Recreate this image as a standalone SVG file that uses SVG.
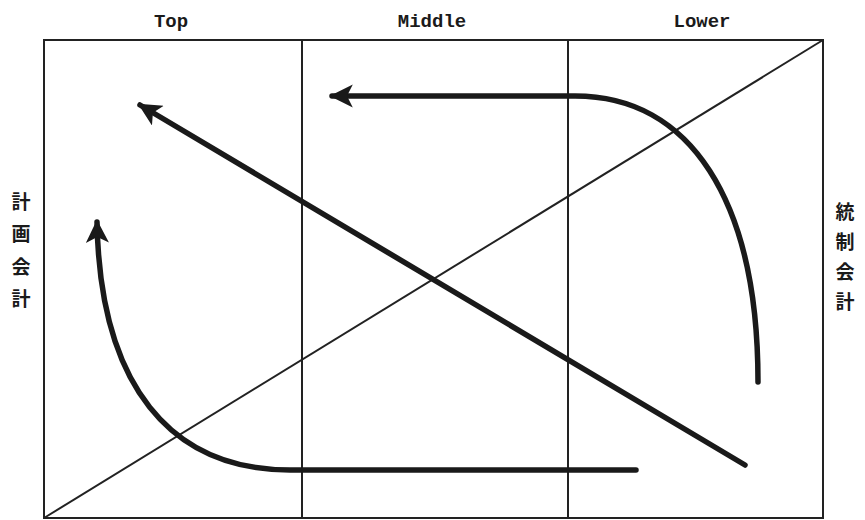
<svg xmlns="http://www.w3.org/2000/svg" width="865" height="520" viewBox="0 0 865 520">
<defs>
<style>
.frame{fill:none;stroke:#222;stroke-width:2}
.arrow{fill:none;stroke:#1a1a1a;stroke-width:5.5;stroke-linecap:round}
.hdr{font-family:"Liberation Mono",monospace;font-weight:bold;font-size:19px;fill:#1a1a1a;text-anchor:middle}
.jp{font-family:"Liberation Sans","Noto Sans CJK JP",sans-serif;font-weight:bold;font-size:19px;fill:#1a1a1a;text-anchor:middle}
</style>
<marker id="ah" viewBox="0 0 10 10" refX="9" refY="5" markerWidth="5" markerHeight="4.2" orient="auto" markerUnits="strokeWidth">
<path d="M0,0 L10,5 L0,10 L2.5,5 Z" fill="#1a1a1a"/>
</marker>
</defs>
<g id="frame">
<rect class="frame" x="44" y="40" width="779" height="478"/>
<line class="frame" x1="302" y1="40" x2="302" y2="518"/>
<line class="frame" x1="568" y1="40" x2="568" y2="518"/>
<line class="frame" x1="44" y1="518" x2="823" y2="40" stroke-width="2.5"/>
</g>
<g id="labels">
<text class="hdr" x="171" y="27">Top</text>
<text class="hdr" x="432" y="27">Middle</text>
<text class="hdr" x="702" y="27">Lower</text>
</g>
<g id="left-label">
<text class="jp" x="21" y="209">計</text>
<text class="jp" x="21" y="241">画</text>
<text class="jp" x="21" y="274">会</text>
<text class="jp" x="21" y="306">計</text>
</g>
<g id="right-label">
<text class="jp" x="845" y="219">統</text>
<text class="jp" x="845" y="249">制</text>
<text class="jp" x="845" y="279">会</text>
<text class="jp" x="845" y="309">計</text>
</g>
<g id="connectors">
<path class="arrow" d="M745,465 L140,105" marker-end="url(#ah)"/>
<path class="arrow" d="M758,382 C758,200 690,96 575,96 L332,96" marker-end="url(#ah)"/>
<path class="arrow" d="M636,470 L290,470 C170,470 100,385 97,222" marker-end="url(#ah)"/>
</g>
</svg>
